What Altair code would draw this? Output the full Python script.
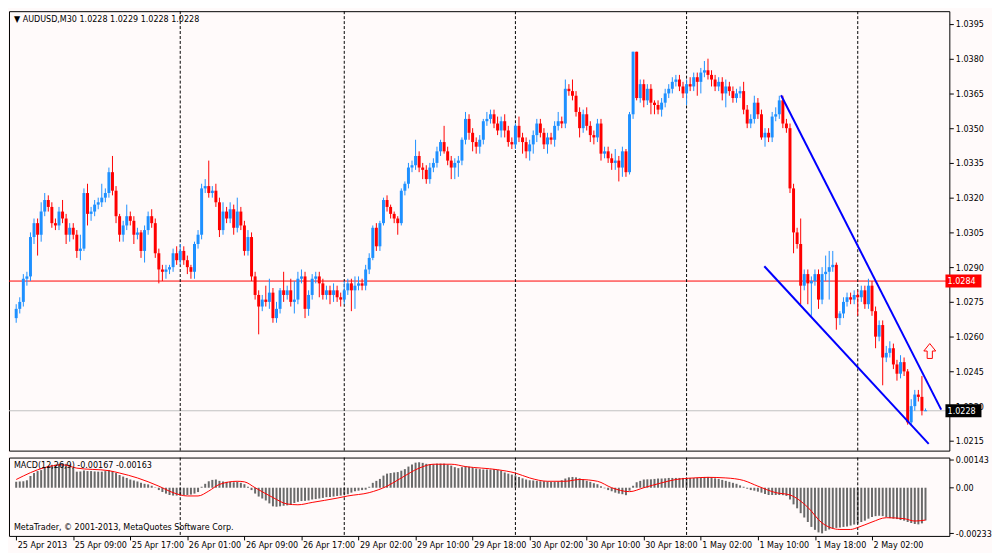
import altair as alt
import pandas as pd

# ---------------- data (prices in pips above 1.0200) ----------------
BASE = 1.0200
first_open = 68
closes = [
    72, 75, 85, 86, 103, 109, 104, 114, 119, 116,
    109, 108, 114, 111, 104, 107, 104, 97, 98, 122,
    113, 114, 117, 118, 120, 122, 131, 123, 112, 104,
    108, 112, 110, 104, 105, 97, 106, 112, 109, 96,
    89, 88, 89, 90, 96, 93, 97, 93, 90, 88,
    100, 104, 124, 125, 122, 123, 118, 106, 114, 111,
    115, 107, 114, 108, 97, 103, 86, 78, 73, 76,
    75, 79, 68, 72, 80, 78, 80, 75, 76, 85,
    86, 72, 78, 85, 86, 83, 78, 80, 78, 80,
    77, 76, 80, 83, 80, 82, 83, 82, 89, 94,
    107, 99, 109, 119, 116, 113, 111, 109, 123, 126,
    133, 134, 138, 133, 132, 128, 133, 135, 140, 144,
    140, 136, 133, 135, 136, 145, 154, 148, 144, 142,
    145, 153, 154, 156, 152, 149, 153, 149, 144, 143,
    151, 146, 144, 140, 143, 147, 152, 148, 143, 146,
    145, 151, 153, 152, 167, 166, 164, 157, 150, 156,
    151, 147, 146, 152, 139, 140, 137, 135, 136, 133,
    140, 131, 156, 183, 163, 169, 162, 167, 161, 160,
    158, 161, 165, 167, 170, 171, 168, 165, 169, 168,
    172, 170, 174, 175, 173, 171, 168, 170, 165, 168,
    166, 163, 165, 166, 158, 152, 154, 161, 156, 146,
    148, 146, 155, 156, 162, 152, 150, 124, 105, 100,
    82, 87, 83, 84, 87, 76, 87, 88, 90, 91,
    68, 70, 75, 77, 76, 78, 77, 80, 74, 82,
    71, 60, 65, 51, 53, 55, 48, 44, 49, 45,
    23, 30, 35, 34, 28, 28,
]
upper_wick = [
    2, 2, 2, 2, 2, 2, 2, 4, 3, 2,
    2, 2, 2, 5, 2, 2, 2, 2, 6, 2,
    4, 2, 2, 2, 6, 2, 2, 7, 2, 1,
    2, 5, 2, 2, 2, 1, 2, 2, 3, 2,
    2, 2, 2, 1, 2, 3, 3, 2, 2, 1,
    1, 2, 2, 3, 11, 2, 3, 2, 4, 2,
    3, 2, 6, 2, 2, 3, 2, 2, 2, 2,
    6, 6, 2, 3, 1, 8, 2, 5, 8, 3,
    3, 2, 2, 2, 2, 2, 2, 2, 2, 3,
    2, 2, 4, 2, 2, 4, 3, 2, 2, 2,
    1, 2, 1, 1, 2, 1, 1, 1, 1, 1,
    2, 2, 7, 2, 2, 2, 2, 2, 2, 1,
    7, 2, 2, 2, 2, 1, 3, 2, 2, 2,
    2, 1, 3, 2, 2, 3, 2, 3, 2, 2,
    1, 4, 2, 2, 2, 2, 2, 2, 2, 2,
    2, 2, 4, 2, 4, 2, 5, 2, 2, 2,
    3, 2, 2, 2, 2, 2, 2, 2, 5, 2,
    2, 1, 1, 0, 0, 2, 2, 2, 2, 1,
    2, 2, 2, 2, 2, 2, 2, 2, 2, 3,
    2, 2, 2, 4, 5, 2, 2, 2, 2, 3,
    2, 2, 2, 2, 4, 2, 2, 3, 2, 2,
    2, 2, 2, 3, 2, 2, 2, 2, 2, 2,
    11, 2, 2, 2, 2, 2, 3, 7, 7, 6,
    1, 1, 2, 2, 2, 2, 2, 2, 2, 3,
    2, 2, 2, 2, 3, 3, 2, 2, 3, 2,
    1, 3, 2, 2, 9, 1,
]
lower_wick = [
    2, 2, 2, 3, 2, 3, 9, 3, 2, 2,
    2, 2, 2, 2, 4, 3, 2, 3, 4, 1,
    5, 3, 2, 2, 2, 2, 2, 2, 3, 3,
    3, 2, 2, 4, 2, 3, 5, 2, 2, 2,
    6, 4, 3, 2, 2, 2, 2, 2, 3, 3,
    3, 2, 2, 2, 2, 2, 2, 3, 2, 2,
    2, 3, 2, 2, 2, 2, 2, 2, 12, 2,
    2, 3, 2, 2, 2, 3, 2, 2, 5, 2,
    2, 4, 3, 2, 2, 6, 2, 2, 4, 3,
    2, 3, 2, 2, 9, 8, 2, 2, 2, 2,
    1, 2, 2, 1, 2, 2, 2, 5, 1, 2,
    2, 2, 2, 2, 4, 2, 2, 2, 2, 2,
    1, 2, 5, 5, 6, 2, 2, 3, 4, 3,
    3, 2, 2, 2, 2, 2, 3, 3, 2, 2,
    2, 2, 5, 3, 4, 4, 3, 2, 2, 4,
    2, 3, 2, 2, 2, 2, 2, 2, 4, 2,
    2, 3, 3, 2, 3, 2, 2, 3, 3, 6,
    4, 2, 1, 2, 1, 2, 3, 2, 5, 4,
    2, 3, 2, 2, 2, 2, 2, 2, 5, 2,
    2, 6, 5, 2, 2, 3, 2, 2, 3, 6,
    2, 2, 2, 2, 2, 2, 2, 2, 2, 1,
    4, 2, 2, 2, 2, 2, 2, 2, 9, 2,
    8, 2, 9, 14, 2, 4, 2, 3, 12, 2,
    5, 3, 2, 2, 2, 2, 8, 2, 2, 2,
    2, 5, 2, 12, 2, 2, 2, 3, 2, 2,
    1, 1, 2, 2, 2, 0,
]
# MACD histogram, units of 0.00001
macd_hist = [
    30, 32, 33, 38, 60, 75, 85, 90, 103, 110,
    117, 118, 122, 125, 122, 115, 100, 82, 83, 88,
    85, 85, 83, 82, 82, 85, 90, 85, 75, 65,
    57, 50, 42, 37, 32, 25, 20, 17, 10, 2,
    -12, -22, -30, -37, -40, -40, -40, -38, -37, -35,
    -30, -22, 5, 20, 33, 40, 42, 35, 32, 30,
    30, 28, 30, 25, 18, 5, -12, -30, -45, -55,
    -65, -80, -95, -97, -95, -92, -90, -88, -78, -72,
    -68, -67, -65, -60, -58, -55, -52, -48, -47, -45,
    -42, -40, -35, -33, -25, -18, -15, -12, -10, 5,
    25, 35, 45, 62, 72, 75, 78, 80, 87, 95,
    108, 118, 128, 130, 127, 122, 120, 120, 123, 123,
    123, 118, 113, 105, 100, 105, 110, 107, 103, 98,
    95, 93, 93, 93, 95, 92, 87, 78, 72, 67,
    62, 55, 48, 42, 38, 37, 35, 33, 33, 32,
    30, 30, 32, 38, 47, 53, 55, 53, 48, 42,
    35, 30, 23, 18, 8, -3, -12, -18, -25, -30,
    -33, -38, -15, 10, 28, 35, 42, 43, 43, 45,
    47, 47, 48, 50, 50, 50, 50, 50, 50, 50,
    50, 50, 52, 55, 55, 53, 48, 45, 40, 35,
    30, 25, 20, 12, 5, -5, -12, -15, -20, -25,
    -32, -37, -37, -37, -37, -38, -42, -60, -85, -105,
    -130, -152, -175, -200, -215, -228, -233, -220, -213, -208,
    -205, -203, -200, -198, -193, -188, -183, -175, -168, -158,
    -150, -145, -143, -145, -150, -155, -158, -160, -165, -168,
    -175, -180, -185, -187, -182, -167,
]
sig_idx = [0, 8, 13, 17, 26, 29, 34, 40, 44, 48, 51, 54, 57, 62, 64, 67, 72, 76, 79, 83,
           90, 93, 99, 104, 108, 113, 117, 122, 126, 135, 140, 144, 149, 154, 158, 163,
           167, 172, 176, 181, 185, 190, 194, 199, 204, 208, 213, 217, 222, 226, 231,
           234, 236, 240, 244, 249, 252, 255]
sig_val = [42, 103, 117, 100, 87, 75, 50, 8, -25, -42, -42, -17, 17, 33, 30, 0, -50, -83,
           -87, -75, -53, -42, -25, 8, 50, 100, 120, 120, 108, 92, 75, 50, 33, 33, 42, 33,
           0, -20, 0, 25, 42, 50, 53, 50, 37, 8, -25, -37, -100, -180, -213, -213, -203,
           -175, -153, -158, -170, -165]

sep_idx = [46, 92, 140, 188, 236]
tick_idx = [0, 16, 32, 48, 64, 80, 96, 112, 128, 144, 160, 176, 192, 208, 224, 240]
tick_lbl = ["25 Apr 2013", "25 Apr 09:00", "25 Apr 17:00", "26 Apr 01:00", "26 Apr 09:00",
            "26 Apr 17:00", "29 Apr 02:00", "29 Apr 10:00", "29 Apr 18:00", "30 Apr 02:00",
            "30 Apr 10:00", "30 Apr 18:00", "1 May 02:00", "1 May 10:00", "1 May 18:00",
            "2 May 02:00"]
price_ticks = [1.0215, 1.0230, 1.0245, 1.0260, 1.0275, 1.0290, 1.0305, 1.0320, 1.0335,
               1.0350, 1.0365, 1.0380, 1.0395]
macd_ticks = [143, 0, -233]
hl_price = [1.0284, 1.0228]
hl_color = ["#ff0000", "#c0c0c0"]
box_price = [1.0284, 1.0228]
box_label = ["1.0284", "1.0228"]
box_fill = ["#ff0000", "#000000"]
tl_x1 = [214.5, 209.8]
tl_y1 = [1.03642, 1.02904]
tl_x2 = [259.4, 255.9]
tl_y2 = [1.02285, 1.02137]
arrow_x = [256.2]
arrow_y = [1.02538]
header = "\u25bc AUDUSD,M30  1.0228 1.0229 1.0228 1.0228"
macd_text = "MACD(12,26,9) -0.00167 -0.00163"
copy_text = "MetaTrader, \u00a9 2001-2013, MetaQuotes Software Corp."

# ---------------- layout ----------------
W, H1, H2 = 948, 443, 79
XDOM = [-0.63, 260.3]
YDOM = [1.02108, 1.04005]
MDOM = [-246, 154]
BG = "#fffafa"
FONT = "DejaVu Sans Condensed, DejaVu Sans, sans-serif"
FS = 9

n = min(len(closes), len(upper_wick), len(lower_wick))
rows = []
for i in range(n):
    o = first_open if i == 0 else closes[i - 1]
    c = closes[i]
    rows.append(dict(idx=i,
                     open=BASE + o / 1e4, close=BASE + c / 1e4,
                     high=BASE + (max(o, c) + upper_wick[i]) / 1e4,
                     low=BASE + (min(o, c) - lower_wick[i]) / 1e4,
                     dir="up" if c >= o else "down",
                     doji=(c == o), xa=i - 0.45, xb=i + 0.45))
cdf = pd.DataFrame(rows)
hdf = pd.DataFrame({"idx": list(range(len(macd_hist))), "h": macd_hist})
sdf = pd.DataFrame({"si": sig_idx, "sv": sig_val})
sep_df = pd.DataFrame({"idx": sep_idx})
hl_df = pd.DataFrame({"price": hl_price, "col": hl_color})
box_df = pd.DataFrame({"price": box_price, "label": box_label, "fill": box_fill})
box_df["y1"] = box_df["price"] - 0.00028
box_df["y2"] = box_df["price"] + 0.00028
box_df["x1"] = 260.6
box_df["x2"] = 270.7
box_df["tx"] = 261.2
tl_df = pd.DataFrame({"x1": tl_x1, "y1": tl_y1, "x2": tl_x2, "y2": tl_y2})
arr_df = pd.DataFrame({"x": arrow_x, "y": arrow_y})

xs = alt.Scale(domain=XDOM, nice=False, zero=False)
ys = alt.Scale(domain=YDOM, nice=False, zero=False)
ms = alt.Scale(domain=MDOM, nice=False, zero=False)
ccol = alt.Color("dir:N", scale=alt.Scale(domain=["up", "down"], range=["#1e90ff", "#ff0000"]), legend=None)

yaxis = alt.Axis(orient="right", values=price_ticks, tickCount=40, format=".4f", title=None,
                 domain=False, grid=False, ticks=True, tickSize=4, tickColor="black",
                 labelColor="black", labelFont=FONT, labelFontSize=FS, labelPadding=2,
                 labelOverlap=False, labelBound=False, labelFlush=False)

hlines = alt.Chart(hl_df).mark_rule(strokeWidth=1).encode(
    y=alt.Y("price:Q", scale=ys, axis=yaxis), color=alt.Color("col:N", scale=None))
seps = alt.Chart(sep_df).mark_rule(color="black", strokeDash=[3, 2], strokeWidth=1).encode(
    x=alt.X("idx:Q", scale=xs, axis=None))
wicks = alt.Chart(cdf).mark_rule(strokeWidth=1).encode(
    x=alt.X("idx:Q", scale=xs, axis=None), y=alt.Y("low:Q", scale=ys), y2="high:Q", color=ccol)
bodies = alt.Chart(cdf).mark_bar(width=3).encode(
    x=alt.X("idx:Q", scale=xs, axis=None), y=alt.Y("open:Q", scale=ys), y2="close:Q", color=ccol)
dojis = alt.Chart(cdf).transform_filter("datum.doji").mark_rule(strokeWidth=1).encode(
    x=alt.X("xa:Q", scale=xs, axis=None), x2="xb:Q", y=alt.Y("close:Q", scale=ys), color=ccol)
trend = alt.Chart(tl_df).mark_rule(color="#0000ff", strokeWidth=2).encode(
    x=alt.X("x1:Q", scale=xs, axis=None), x2="x2:Q", y=alt.Y("y1:Q", scale=ys), y2="y2:Q")
ARROW = "M -0.35 1 L -0.35 0 L -0.8 0 L 0 -1 L 0.8 0 L 0.35 0 L 0.35 1 Z"
arrow = alt.Chart(arr_df).mark_point(shape=ARROW, size=225, filled=False, color="#ff0000",
                                      strokeWidth=1, opacity=1).encode(
    x=alt.X("x:Q", scale=xs, axis=None), y=alt.Y("y:Q", scale=ys))
boxes = alt.Chart(box_df).mark_rect().encode(
    x=alt.X("x1:Q", scale=xs, axis=None), x2="x2:Q", y=alt.Y("y1:Q", scale=ys), y2="y2:Q",
    color=alt.Color("fill:N", scale=None))
boxtext = alt.Chart(box_df).mark_text(align="left", baseline="middle", color="white",
                                      font=FONT, fontSize=FS).encode(
    x=alt.X("tx:Q", scale=xs, axis=None), y=alt.Y("price:Q", scale=ys), text="label:N")
head = alt.Chart(pd.DataFrame({"t": [header]})).mark_text(
    align="left", baseline="middle", font=FONT, fontSize=FS, color="black").encode(
    x=alt.value(5), y=alt.value(8), text="t:N")

main = alt.layer(hlines, seps, wicks, bodies, dojis, trend, arrow, boxes, boxtext, head).properties(
    width=W, height=H1)

lbl_expr = "[" + ",".join("'" + s + "'" for s in tick_lbl) + "][round(datum.value/16)]"
xaxis = alt.Axis(orient="bottom", values=tick_idx, tickCount=40, labelExpr=lbl_expr, title=None,
                 domain=False, grid=False, ticks=True, tickSize=4, tickColor="black",
                 labelAlign="left", labelBaseline="top", labelPadding=1, labelOffset=1,
                 labelFont=FONT, labelFontSize=FS, labelColor="black", labelOverlap=False,
                 labelFlush=False, labelBound=False)
maxis = alt.Axis(orient="right", values=macd_ticks, tickCount=10,
                 labelExpr="datum.value == 143 ? '0.00143' : (datum.value == 0 ? '0.00' : '-0.00233')",
                 title=None, domain=False, grid=False, ticks=True, tickSize=4, tickColor="black",
                 labelColor="black", labelFont=FONT, labelFontSize=FS, labelPadding=2,
                 labelOverlap=False, labelBound=False, labelFlush=False)

hist = alt.Chart(hdf).mark_bar(width=2, color="#6a6a6a").encode(
    x=alt.X("idx:Q", scale=xs, axis=xaxis), y=alt.Y("h:Q", scale=ms, axis=maxis), y2=alt.datum(0))
seps2 = alt.Chart(sep_df).mark_rule(color="black", strokeDash=[3, 2], strokeWidth=1).encode(
    x=alt.X("idx:Q", scale=xs))
sig = alt.Chart(sdf).mark_line(color="#ff0000", strokeWidth=1, interpolate="monotone").encode(
    x=alt.X("si:Q", scale=xs), y=alt.Y("sv:Q", scale=ms))
mtxt = alt.Chart(pd.DataFrame({"t": [macd_text]})).mark_text(
    align="left", baseline="middle", font=FONT, fontSize=FS, color="black").encode(
    x=alt.value(5), y=alt.value(8), text="t:N")
ctxt = alt.Chart(pd.DataFrame({"t": [copy_text]})).mark_text(
    align="left", baseline="middle", font=FONT, fontSize=FS, color="black").encode(
    x=alt.value(5), y=alt.value(H2 - 9), text="t:N")

macd = alt.layer(hist, seps2, sig, mtxt, ctxt).properties(width=W, height=H2)

chart = alt.vconcat(main, macd, spacing=3).resolve_scale(
    x="independent", y="independent").properties(
    padding=0, background=BG).configure_view(
    stroke="black", strokeWidth=1).configure_axis(
    labelOverlap=False, labelBound=False, labelFlush=False, labelSeparation=0)

chart.save("out.html", embed_options={"renderer": "svg", "actions": False})
